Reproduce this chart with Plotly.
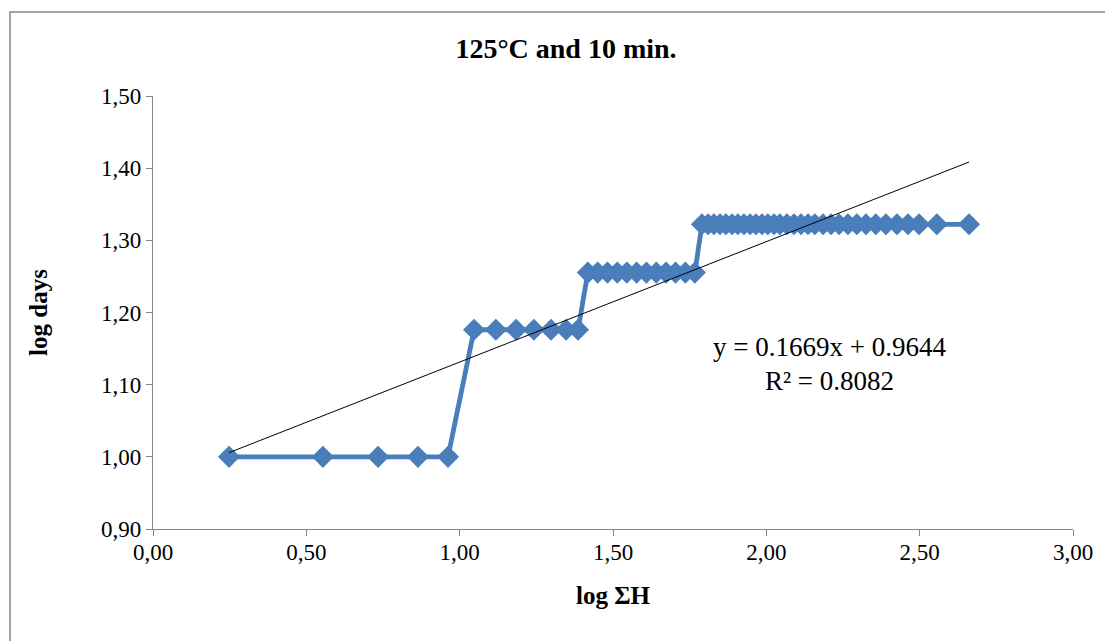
import plotly.graph_objects as go

# ---- data ----
log_sum_h = [
    0.248, 0.554, 0.734, 0.864, 0.962,
    1.047, 1.118, 1.184, 1.242, 1.298, 1.347, 1.386,
    1.418, 1.450, 1.482, 1.514, 1.545, 1.577, 1.609, 1.641, 1.673, 1.704, 1.736, 1.767,
    1.790, 1.810, 1.829, 1.849, 1.868, 1.888, 1.907, 1.927, 1.947, 1.966, 1.986, 2.005,
    2.025, 2.044, 2.067, 2.090, 2.113, 2.136, 2.158, 2.185, 2.211, 2.237, 2.266, 2.295,
    2.325, 2.357, 2.390, 2.426, 2.462, 2.498, 2.556, 2.661,
]
log_days = (
    [1.0000] * 5
    + [1.1761] * 7
    + [1.2553] * 12
    + [1.3222] * 32
)
trend_slope = 0.1669
trend_intercept = 0.9644
trend_r2 = 0.8082
x_ticks = [0.0, 0.5, 1.0, 1.5, 2.0, 2.5, 3.0]
y_ticks = [0.9, 1.0, 1.1, 1.2, 1.3, 1.4, 1.5]

BLUE = "#4A7EBB"
GRAY = "#868686"
FONT = "Liberation Serif"

trend_x = [min(log_sum_h), max(log_sum_h)]
trend_y = [trend_slope * v + trend_intercept for v in trend_x]

fig = go.Figure()
fig.add_trace(go.Scatter(
    x=log_sum_h, y=log_days, mode="lines+markers",
    line=dict(color=BLUE, width=4.8),
    marker=dict(symbol="diamond", size=17, color=BLUE),
    showlegend=False, hoverinfo="x+y",
))
fig.add_trace(go.Scatter(
    x=trend_x, y=trend_y, mode="lines",
    line=dict(color="black", width=1),
    showlegend=False, hoverinfo="skip",
))

fig.add_annotation(x=2.207, y=1.152, xref="x", yref="y", showarrow=False,
                   text=f"y = {trend_slope:.4f}x + {trend_intercept:.4f}",
                   font=dict(family=FONT, size=27, color="black"))
fig.add_annotation(x=2.207, y=1.105, xref="x", yref="y", showarrow=False,
                   text=f"R² = {trend_r2:.4f}",
                   font=dict(family=FONT, size=27, color="black"))

# outer chart frame
fig.add_shape(type="rect", xref="paper", yref="paper",
              x0=(10 - 153) / 920, x1=(1110 - 153) / 920,
              y0=(529 - 650) / 433, y1=(529 - 12) / 433,
              line=dict(color=GRAY, width=1.5), fillcolor="rgba(0,0,0,0)", layer="below")

axis_common = dict(
    showgrid=False, zeroline=False, showline=True, linecolor=GRAY, linewidth=1.3,
    ticks="outside", ticklen=6, tickcolor=GRAY, tickwidth=1.3,
    tickfont=dict(family=FONT, size=23, color="black"), tickformat=".2f",
)

# page body has an 8px margin, so the figure is 8px smaller and offset
fig.update_layout(
    width=1105, height=633,
    margin=dict(l=145, r=40, t=88, b=112),
    paper_bgcolor="white", plot_bgcolor="white",
    separators=",.",
    title=dict(text="<b>125°C and 10 min.</b>", x=558 / 1105, xref="container",
               xanchor="center", y=1 - 40 / 633, yref="container", yanchor="middle",
               font=dict(family=FONT, size=28, color="black")),
    xaxis=dict(range=[0, 3], tickvals=x_ticks,
               title=dict(text="<b>log ΣH</b>", font=dict(family=FONT, size=25, color="black"), standoff=22),
               **axis_common),
    yaxis=dict(range=[0.9, 1.5], tickvals=y_ticks,
               title=dict(text="<b>log days</b>", font=dict(family=FONT, size=25, color="black"), standoff=46),
               **axis_common),
)
fig.update_xaxes(ticklabelstandoff=-4)

fig.write_html("out.html")
